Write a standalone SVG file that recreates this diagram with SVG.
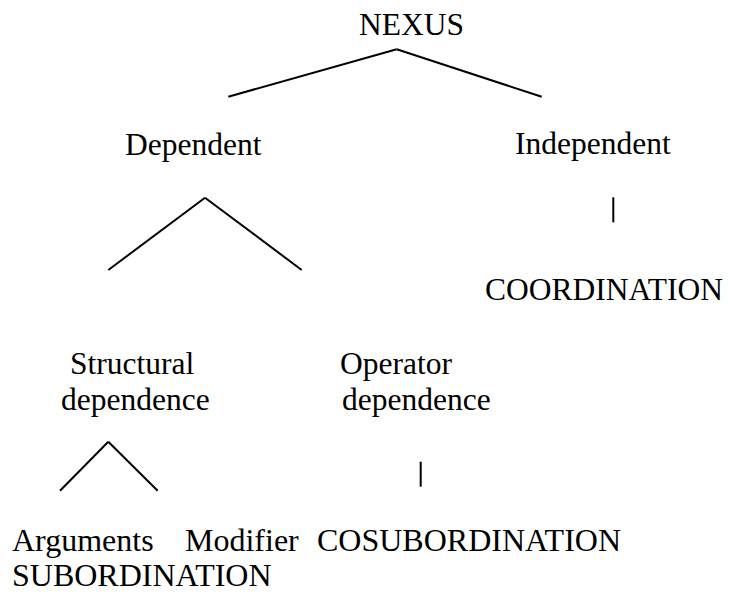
<svg xmlns="http://www.w3.org/2000/svg" width="731" height="597" viewBox="0 0 731 597">
<style>
text{font-family:"Liberation Serif","Times New Roman",serif;font-size:31.5px;fill:#000}
.b{font-size:32px}
.c line{stroke:#000;stroke-width:2;fill:none}
</style>
<rect width="731" height="597" fill="#fff"/>
<g id="nexus"><text x="359" y="35">NEXUS</text></g>
<g id="dependent"><text x="125" y="155">Dependent</text></g>
<g id="independent"><text x="515" y="154">Independent</text></g>
<g id="coordination"><text x="485" y="300">COORDINATION</text></g>
<g id="structural"><text x="70" y="374">Structural</text><text x="61" y="410">dependence</text></g>
<g id="operator"><text x="340" y="374">Operator</text><text x="342" y="410">dependence</text></g>
<g id="arguments"><text class="b" x="12" y="551">Arguments</text></g>
<g id="modifier"><text class="b" x="185" y="551">Modifier</text></g>
<g id="cosubordination"><text class="b" x="317" y="551">COSUBORDINATION</text></g>
<g id="subordination"><text class="b" x="12" y="586">SUBORDINATION</text></g>
<g id="connectors" class="c">
<line x1="396.7" y1="49.3" x2="228.3" y2="96.7"/>
<line x1="396.7" y1="49.3" x2="541.7" y2="96.7"/>
<line x1="205" y1="197.7" x2="108.3" y2="270"/>
<line x1="205" y1="197.7" x2="301.7" y2="270"/>
<line x1="613.3" y1="197.3" x2="613.3" y2="222.3"/>
<line x1="108.3" y1="441.7" x2="60" y2="490.7"/>
<line x1="108.3" y1="441.7" x2="157.7" y2="490.7"/>
<line x1="420.7" y1="461.7" x2="420.7" y2="486.7"/>
</g>
</svg>
